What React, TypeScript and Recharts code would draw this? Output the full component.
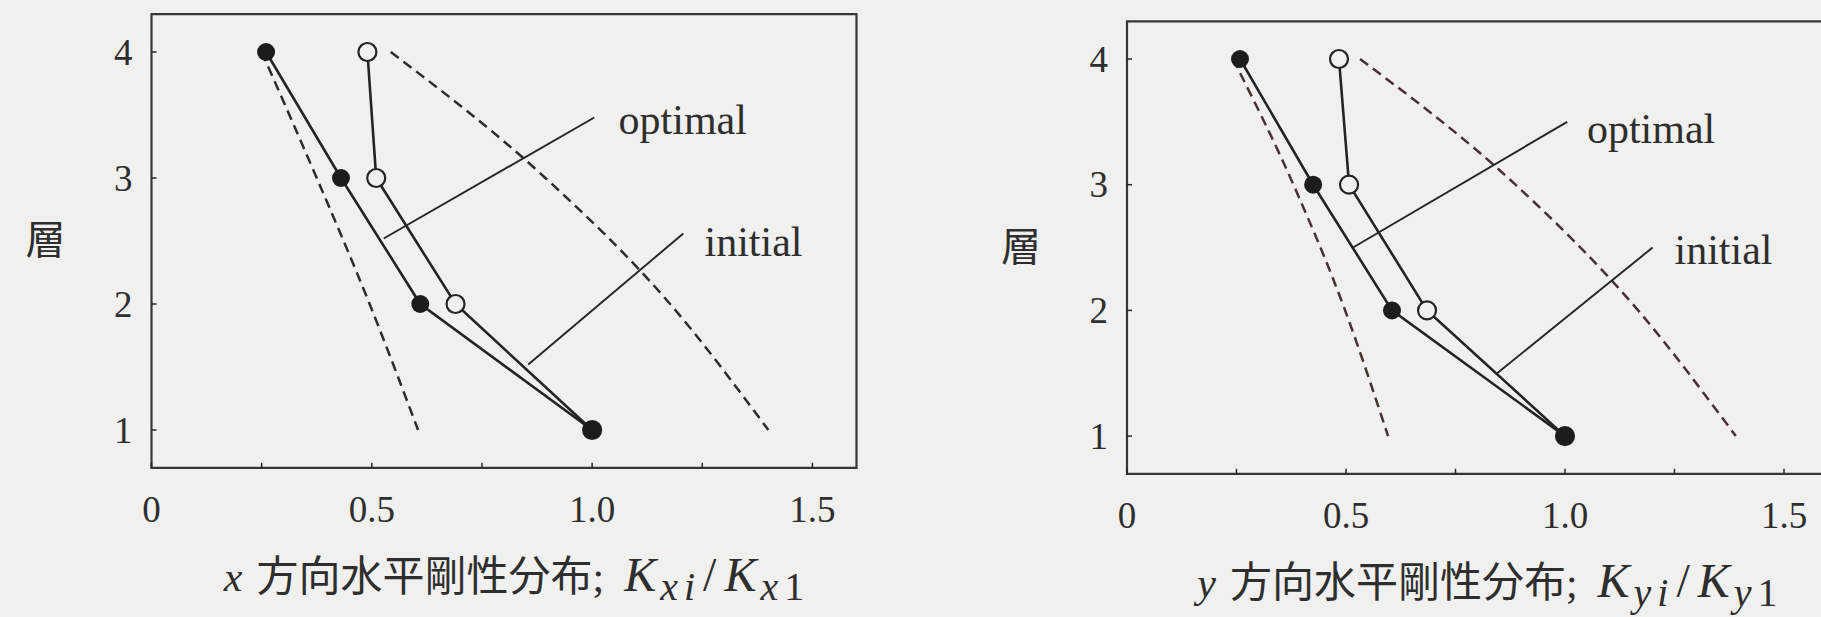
import React from 'react';
import {
  LineChart,
  Line,
  XAxis,
  YAxis,
  ReferenceLine,
  ReferenceDot,
  ReferenceArea,
  Label,
} from 'recharts';

// ---- data ---------------------------------------------------------------

// storey numbers (vertical axis)
const storeys = [1, 2, 3, 4];

// x-direction stiffness ratio K_xi / K_x1 for storeys 1..4
const kxOptimal = [1.0, 0.61, 0.43, 0.26];
const kxInitial = [1.0, 0.69, 0.51, 0.49];
const kxLowerCurve = [0.605, 0.495, 0.375, 0.25];
const kxUpperCurve = [1.4, 1.177, 0.894, 0.543];

// y-direction stiffness ratio K_yi / K_y1 for storeys 1..4
const kyOptimal = [1.0, 0.605, 0.425, 0.258];
const kyInitial = [1.0, 0.685, 0.507, 0.484];
const kyLowerCurve = [0.596, 0.498, 0.38, 0.242];
const kyUpperCurve = [1.39, 1.167, 0.887, 0.532];

// leader lines for the series labels: [ratio, storey] at each end
const xOptimalLeader = [[0.527, 2.52], [1.005, 3.48]];
const xInitialLeader = [[0.855, 1.52], [1.207, 2.56]];
const yOptimalLeader = [[0.516, 2.5], [1.005, 3.5]];
const yInitialLeader = [[0.845, 1.5], [1.2, 2.5]];

// where the label text starts: [ratio, storey]
const xOptimalText = [1.06, 3.46];
const xInitialText = [1.255, 2.49];
const yOptimalText = [1.05, 3.44];
const yInitialText = [1.25, 2.48];

// axes
const ratioDomain = [0, 1.6];
const storeyDomain = [0.7, 4.3];
const ratioTicks = [0, 0.25, 0.5, 0.75, 1, 1.25, 1.5];
const ratioLabelValues = [0, 0.5, 1, 1.5];
const ratioLabelText = ['0', '0.5', '1.0', '1.5'];
const storeyTicks = [1, 2, 3, 4];

// ---- styling --------------------------------------------------------------

const INK = '#242424';
const TEXT = '#2e2e2e';
const PAPER = '#f0f0ef';
const SERIF = "'Liberation Serif', 'Noto Sans CJK JP', serif";

const toPoints = (xs: number[]) => storeys.map((s, i) => ({ x: xs[i], y: s }));
const toCurve = (xs: number[]) =>
  storeys.map((s, i) => ({ x: xs[i], y: s })).sort((a, b) => a.x - b.x);

const ratioLabel = (v: number) => {
  const i = ratioLabelValues.findIndex((u) => Math.abs(u - v) < 1e-6);
  return i >= 0 ? ratioLabelText[i] : null;
};

const XTick = (props: any) => {
  const { x, y, payload } = props;
  const label = ratioLabel(payload.value);
  return (
    <g>
      <line x1={x} x2={x} y1={y} y2={y - 5} stroke={INK} strokeWidth={1.5} />
      {label !== null && (
        <text
          x={x}
          y={y + 42}
          textAnchor="middle"
          dominantBaseline="central"
          fontSize={37}
          fontFamily={SERIF}
          fill={TEXT}
        >
          {label}
        </text>
      )}
    </g>
  );
};

const YTick = (props: any) => {
  const { x, y, payload } = props;
  return (
    <g>
      <line x1={x} x2={x + 5} y1={y} y2={y} stroke={INK} strokeWidth={1.5} />
      <text
        x={x - 19}
        y={y}
        textAnchor="end"
        dominantBaseline="central"
        fontSize={37}
        fontFamily={SERIF}
        fill={TEXT}
      >
        {payload.value}
      </text>
    </g>
  );
};

const openDot = (p: any) => (
  <circle key={`o-${p.index}`} cx={p.cx} cy={p.cy} r={9} fill={PAPER} stroke={INK} strokeWidth={2.2} />
);
const filledDot = (p: any) => (
  <circle key={`f-${p.index}`} cx={p.cx} cy={p.cy} r={9} fill="#1c1c1c" stroke="none" />
);

const seriesText = (text: string) => (p: any) => (
  <text
    x={p.cx}
    y={p.cy}
    dominantBaseline="central"
    fontSize={42}
    fontFamily={SERIF}
    fill={TEXT}
  >
    {text}
  </text>
);

type PanelProps = {
  left: number;
  plotLeft: number;
  plotTop: number;
  plotWidth: number;
  plotHeight: number;
  axisVar: string;
  optimal: number[];
  initial: number[];
  lower: number[];
  upper: number[];
  optimalLeader: number[][];
  initialLeader: number[][];
  optimalText: number[];
  initialText: number[];
  dashColor: string;
};

const CHART_W = 900;
const CHART_H = 617;
const Y_AXIS_W = 60;
const X_AXIS_H = 60;

function Panel(props: PanelProps) {
  const {
    left,
    plotLeft,
    plotTop,
    plotWidth,
    plotHeight,
    axisVar,
    optimal,
    initial,
    lower,
    upper,
    optimalLeader,
    initialLeader,
    optimalText,
    initialText,
    dashColor,
  } = props;

  const margin = {
    left: plotLeft - Y_AXIS_W,
    top: plotTop,
    right: CHART_W - plotLeft - plotWidth,
    bottom: CHART_H - plotTop - plotHeight - X_AXIS_H,
  };

  const renderXTitle = (lp: any) => {
    const vb = lp.viewBox;
    const cx = vb.x + vb.width / 2 + 10;
    const base = vb.y + 123;
    return (
      <text x={cx} y={base} textAnchor="middle" fontSize={42} fontFamily={SERIF} fill={TEXT}>
        <tspan fontStyle="italic">{axisVar}</tspan>
        <tspan dx={14}>方向水平剛性分布;</tspan>
        <tspan dx={20} fontStyle="italic" fontSize={48}>K</tspan>
        <tspan dx={4} dy={9} fontStyle="italic" fontSize={40} letterSpacing={6}>{axisVar + 'i'}</tspan>
        <tspan dy={-9} dx={2} fontSize={48}>/</tspan>
        <tspan dx={8} fontStyle="italic" fontSize={48}>K</tspan>
        <tspan dx={4} dy={9} fontStyle="italic" fontSize={40} letterSpacing={6}>{axisVar}</tspan>
        <tspan fontSize={40}>1</tspan>
      </text>
    );
  };

  const renderYTitle = (lp: any) => {
    const vb = lp.viewBox;
    return (
      <text
        x={vb.x + vb.width - 106}
        y={vb.y + 226}
        textAnchor="middle"
        dominantBaseline="central"
        fontSize={40}
        fontFamily={SERIF}
        fill={TEXT}
      >
        層
      </text>
    );
  };

  return (
    <div style={{ position: 'absolute', left, top: 0 }}>
      <LineChart width={CHART_W} height={CHART_H} margin={margin}>
        <XAxis
          type="number"
          dataKey="x"
          domain={ratioDomain}
          ticks={ratioTicks}
          interval={0}
          allowDataOverflow
          axisLine={false}
          tickLine={false}
          tickSize={0}
          tickMargin={0}
          height={X_AXIS_H}
          tick={<XTick />}
        >
          <Label content={renderXTitle} />
        </XAxis>
        <YAxis
          type="number"
          dataKey="y"
          domain={storeyDomain}
          ticks={storeyTicks}
          interval={0}
          allowDataOverflow
          axisLine={false}
          tickLine={false}
          tickSize={0}
          tickMargin={0}
          width={Y_AXIS_W}
          tick={<YTick />}
        >
          <Label content={renderYTitle} />
        </YAxis>

        <ReferenceArea
          x1={ratioDomain[0]}
          x2={ratioDomain[1]}
          y1={storeyDomain[0]}
          y2={storeyDomain[1]}
          fill="none"
          fillOpacity={0}
          stroke="#363636"
          strokeWidth={2.2}
        />

        <Line
          data={toCurve(lower)}
          dataKey="y"
          type="monotone"
          stroke={dashColor}
          strokeWidth={2.5}
          strokeDasharray="10 6"
          dot={false}
          activeDot={false}
          isAnimationActive={false}
        />
        <Line
          data={toCurve(upper)}
          dataKey="y"
          type="monotone"
          stroke={dashColor}
          strokeWidth={2.5}
          strokeDasharray="10 6"
          dot={false}
          activeDot={false}
          isAnimationActive={false}
        />

        <ReferenceLine
          segment={[
            { x: optimalLeader[0][0], y: optimalLeader[0][1] },
            { x: optimalLeader[1][0], y: optimalLeader[1][1] },
          ]}
          stroke={INK}
          strokeWidth={1.9}
        />
        <ReferenceLine
          segment={[
            { x: initialLeader[0][0], y: initialLeader[0][1] },
            { x: initialLeader[1][0], y: initialLeader[1][1] },
          ]}
          stroke={INK}
          strokeWidth={1.9}
        />
        <ReferenceDot x={optimalText[0]} y={optimalText[1]} r={0} shape={seriesText('optimal')} />
        <ReferenceDot x={initialText[0]} y={initialText[1]} r={0} shape={seriesText('initial')} />

        <Line
          data={toPoints(initial)}
          dataKey="y"
          type="linear"
          stroke={INK}
          strokeWidth={2.6}
          dot={openDot}
          activeDot={false}
          isAnimationActive={false}
        />
        <Line
          data={toPoints(optimal)}
          dataKey="y"
          type="linear"
          stroke={INK}
          strokeWidth={2.6}
          dot={filledDot}
          activeDot={false}
          isAnimationActive={false}
        />
      </LineChart>
    </div>
  );
}

export default function App() {
  return (
    <div
      style={{
        position: 'absolute',
        left: 0,
        top: 0,
        width: 1821,
        height: 617,
        overflow: 'hidden',
        background: PAPER,
      }}
    >
      <Panel
        left={0}
        plotLeft={151.5}
        plotTop={14.2}
        plotWidth={705}
        plotHeight={453.6}
        axisVar="x"
        optimal={kxOptimal}
        initial={kxInitial}
        lower={kxLowerCurve}
        upper={kxUpperCurve}
        optimalLeader={xOptimalLeader}
        initialLeader={xInitialLeader}
        optimalText={xOptimalText}
        initialText={xInitialText}
        dashColor="#2c2c2c"
      />
      <Panel
        left={960}
        plotLeft={167}
        plotTop={21.3}
        plotWidth={700.8}
        plotHeight={452.5}
        axisVar="y"
        optimal={kyOptimal}
        initial={kyInitial}
        lower={kyLowerCurve}
        upper={kyUpperCurve}
        optimalLeader={yOptimalLeader}
        initialLeader={yInitialLeader}
        optimalText={yOptimalText}
        initialText={yInitialText}
        dashColor="#4a3030"
      />
    </div>
  );
}
